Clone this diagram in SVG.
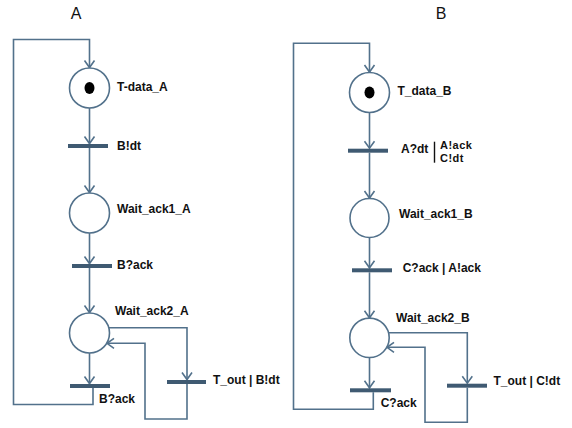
<svg xmlns="http://www.w3.org/2000/svg" width="572" height="428" viewBox="0 0 572 428">
  <style>
    .arc { fill: none; stroke: #52718b; stroke-width: 1.6; }
    .place { fill: #ffffff; stroke: #52718b; stroke-width: 1.6; }
    .bar { fill: #3f5a72; }
    .token { fill: #000000; }
    .lbl { font-family: "Liberation Sans", Arial, sans-serif; font-size: 12px; font-weight: bold; fill: #111111; }
    .lbl-sm { font-family: "Liberation Sans", Arial, sans-serif; font-size: 11px; letter-spacing: 0.5px; font-weight: bold; fill: #111111; }
    .title { font-family: "Liberation Sans", Arial, sans-serif; font-size: 16px; fill: #111111; text-anchor: middle; }
    .sep { stroke: #111111; stroke-width: 1.4; }
  </style>
  <defs>
    <marker id="arrow" markerUnits="userSpaceOnUse" markerWidth="12" markerHeight="12" refX="0" refY="0" orient="auto" overflow="visible">
      <path d="M-7,-5 L0,0 L-7,5" fill="none" stroke="#52718b" stroke-width="1.6"/>
    </marker>
  </defs>
  <rect width="572" height="428" fill="#ffffff"/>

  <!-- Net A -->
  <text class="title" x="76" y="18.5">A</text>
  <g id="connectors-A">
    <path class="arc" d="M89.5,108 V143.5" marker-end="url(#arrow)"/>
    <path class="arc" d="M89.5,148 V192.5" marker-end="url(#arrow)"/>
    <path class="arc" d="M89.5,233 V263.5" marker-end="url(#arrow)"/>
    <path class="arc" d="M89.5,268 V312.5" marker-end="url(#arrow)"/>
    <path class="arc" d="M89.5,353 V383.5" marker-end="url(#arrow)"/>
    <path class="arc" d="M93,388 V404.5 H13.5 V39.5 H89.5 V67.5" marker-end="url(#arrow)"/>
    <path class="arc" d="M108.8,327.7 H187 V379.5" marker-end="url(#arrow)"/>
    <path class="arc" d="M187,384 V419 H145 V343.3 H107" marker-end="url(#arrow)"/>
  </g>
  <g id="T-data_A">
    <circle class="place" cx="89.5" cy="88" r="20"/>
    <ellipse class="token" cx="89.5" cy="88" rx="5" ry="6"/>
    <text class="lbl" x="117" y="90.5">T-data_A</text>
  </g>
  <g id="A-send-dt">
    <rect class="bar" x="68" y="144" width="40" height="4"/>
    <text class="lbl" x="117" y="149.5">B!dt</text>
  </g>
  <g id="Wait_ack1_A">
    <circle class="place" cx="89.5" cy="213" r="20"/>
    <text class="lbl" x="117" y="212.5">Wait_ack1_A</text>
  </g>
  <g id="A-recv-ack1">
    <rect class="bar" x="72" y="264" width="40" height="4"/>
    <text class="lbl" x="117" y="269">B?ack</text>
  </g>
  <g id="Wait_ack2_A">
    <circle class="place" cx="89.5" cy="333" r="20"/>
    <text class="lbl" x="115" y="315">Wait_ack2_A</text>
  </g>
  <g id="A-timeout">
    <rect class="bar" x="167" y="380" width="39" height="4"/>
    <text class="lbl" x="213" y="384.3">T_out | B!dt</text>
  </g>
  <g id="A-recv-ack2">
    <rect class="bar" x="70" y="384" width="40" height="4"/>
    <text class="lbl" x="99" y="402.5">B?ack</text>
  </g>

  <!-- Net B -->
  <text class="title" x="441" y="18.5">B</text>
  <g id="connectors-B">
    <path class="arc" d="M369.5,112.5 V148.2" marker-end="url(#arrow)"/>
    <path class="arc" d="M369.5,152.7 V198" marker-end="url(#arrow)"/>
    <path class="arc" d="M369.5,237.5 V267.8" marker-end="url(#arrow)"/>
    <path class="arc" d="M369.5,272.3 V317.8" marker-end="url(#arrow)"/>
    <path class="arc" d="M369.5,357.5 V387.8" marker-end="url(#arrow)"/>
    <path class="arc" d="M373.3,392.3 V409.3 H293.5 V43.3 H369.5 V72" marker-end="url(#arrow)"/>
    <path class="arc" d="M388.7,332.7 H467.3 V383.2" marker-end="url(#arrow)"/>
    <path class="arc" d="M467.3,387.7 V422.3 H425 V347.3 H387" marker-end="url(#arrow)"/>
  </g>
  <g id="T_data_B">
    <circle class="place" cx="369.5" cy="92.5" r="20"/>
    <ellipse class="token" cx="369.5" cy="92.5" rx="5" ry="6"/>
    <text class="lbl" x="397.5" y="95">T_data_B</text>
  </g>
  <g id="B-recv-dt">
    <rect class="bar" x="348" y="148.7" width="40" height="4"/>
    <text class="lbl" x="401" y="152.5">A?dt</text>
    <line class="sep" x1="434.5" y1="141.7" x2="434.5" y2="162.7"/>
    <text class="lbl-sm" x="440" y="149.3">A!ack</text>
    <text class="lbl-sm" x="440" y="162.2">C!dt</text>
  </g>
  <g id="Wait_ack1_B">
    <circle class="place" cx="369.5" cy="218" r="19.5"/>
    <text class="lbl" x="399" y="217.5">Wait_ack1_B</text>
  </g>
  <g id="B-recv-ack1">
    <rect class="bar" x="352" y="268.3" width="40" height="4"/>
    <text class="lbl" x="402.7" y="271.5">C?ack | A!ack</text>
  </g>
  <g id="Wait_ack2_B">
    <circle class="place" cx="369.5" cy="337.8" r="19.7"/>
    <text class="lbl" x="396" y="321.5">Wait_ack2_B</text>
  </g>
  <g id="B-timeout">
    <rect class="bar" x="447" y="383.7" width="40" height="4"/>
    <text class="lbl" x="493.5" y="385">T_out | C!dt</text>
  </g>
  <g id="B-recv-ack2">
    <rect class="bar" x="350" y="388.3" width="41" height="4"/>
    <text class="lbl" x="380.7" y="407">C?ack</text>
  </g>
</svg>
